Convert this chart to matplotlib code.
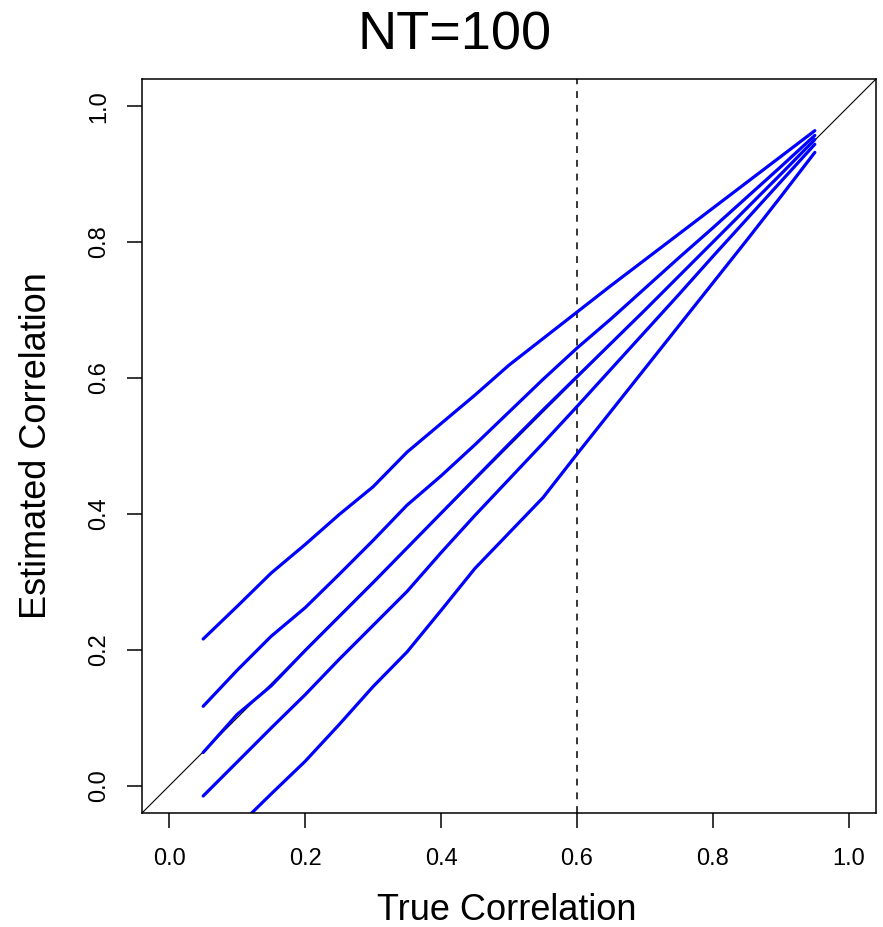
import matplotlib
matplotlib.use("Agg")
import matplotlib.pyplot as plt
import numpy as np

plt.rcParams['font.family'] = ['Liberation Sans', 'DejaVu Sans']

# true correlation grid
true_r = [0.05, 0.10, 0.15, 0.20, 0.25, 0.30, 0.35, 0.40, 0.45, 0.50,
          0.55, 0.60, 0.65, 0.70, 0.75, 0.80, 0.85, 0.90, 0.95]

# estimated correlation curves (top to bottom)
est_1 = [0.216, 0.264, 0.313, 0.355, 0.399, 0.440, 0.491, 0.533, 0.575, 0.619,
         0.658, 0.697, 0.736, 0.774, 0.812, 0.850, 0.888, 0.926, 0.964]
est_2 = [0.117, 0.170, 0.220, 0.262, 0.311, 0.361, 0.413, 0.456, 0.502, 0.550,
         0.598, 0.644, 0.687, 0.732, 0.777, 0.821, 0.866, 0.911, 0.957]
est_3 = [0.049, 0.105, 0.147, 0.199, 0.249, 0.299, 0.350, 0.401, 0.452, 0.503,
         0.553, 0.602, 0.651, 0.700, 0.750, 0.800, 0.850, 0.900, 0.951]
est_4 = [-0.015, 0.035, 0.085, 0.134, 0.186, 0.236, 0.286, 0.343, 0.398, 0.451,
         0.504, 0.558, 0.613, 0.668, 0.723, 0.779, 0.834, 0.889, 0.944]
est_5 = [-0.115, -0.061, -0.012, 0.036, 0.090, 0.146, 0.197, 0.258, 0.320, 0.372,
         0.424, 0.488, 0.551, 0.614, 0.677, 0.740, 0.803, 0.867, 0.932]

curves = [est_1, est_2, est_3, est_4, est_5]
cutoff = 0.6
ticks = [0.0, 0.2, 0.4, 0.6, 0.8, 1.0]

W, H = 883, 927
fig = plt.figure(figsize=(W / 100, H / 100), dpi=100)
ax = fig.add_axes([142 / W, 1 - 813 / H, 734 / W, 734 / H])

ax.axline((0, 0), (1, 1), color='black', lw=0.8)
ax.axvline(cutoff, color='black', lw=1.1, linestyle=(0, (4.5, 4.5)))
for est in curves:
    ax.plot(true_r, est, color='#0000ff', lw=2.3, solid_capstyle='round')

ax.set_xlim(-0.04, 1.04)
ax.set_ylim(-0.04, 1.04)
ax.set_xticks(ticks)
ax.set_yticks(ticks)
ax.set_xticklabels([f"{t:.1f}" for t in ticks], fontsize=17)
ax.set_yticklabels([f"{t:.1f}" for t in ticks], fontsize=17, rotation=90, va='center')
ax.tick_params(direction='out', length=11, width=1.1, pad=14)
ax.tick_params(axis='y', pad=12)
for s in ax.spines.values():
    s.set_linewidth(1.1)

fig.text(455 / W, 1 - 35 / H, "NT=100", fontsize=39, ha='center', va='center')
fig.text(507 / W, 1 - 911 / H, "True Correlation", fontsize=26, ha='center', va='center')
fig.text(37 / W, 1 - 446 / H, "Estimated Correlation", fontsize=26, ha='center',
         va='center', rotation=90)

fig.savefig("out.png", dpi=100)
